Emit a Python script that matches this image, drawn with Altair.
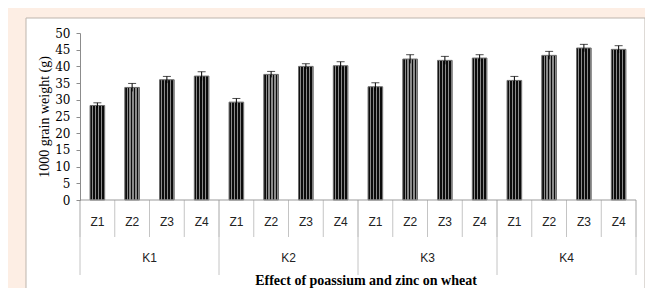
import altair as alt
import pandas as pd

k_levels = ["K1", "K2", "K3", "K4"]
z_levels = ["Z1", "Z2", "Z3", "Z4"]
values = [28.3, 33.7, 36.0, 37.1, 29.3, 37.6, 40.0, 40.2,
          33.9, 42.2, 41.8, 42.5, 35.8, 43.3, 45.5, 45.1]
errors = [0.8, 1.2, 1.0, 1.3, 1.1, 0.9, 0.8, 1.2,
          1.2, 1.3, 1.2, 1.0, 1.2, 1.2, 1.1, 1.1]
y_ticks = list(range(0, 55, 5))
y_title = "1000 grain weight (g)"
x_title = "Effect of poassium and zinc on wheat"

cats, ks, zs = [], [], []
for k in k_levels:
    for z in z_levels:
        cats.append(k + "-" + z)
        ks.append(k)
        zs.append(z)
n = len(cats)
df = pd.DataFrame({
    "cat": cats, "k": ks, "z": zs, "value": values, "err": errors,
    "lo": [v - e for v, e in zip(values, errors)],
    "hi": [v + e for v, e in zip(values, errors)],
    "mid": [i + 0.5 for i in range(n)],
})
gsize = len(z_levels)
bounds = pd.DataFrame({"pos": list(range(n + 1))})
bounds["major"] = bounds["pos"] % gsize == 0
kdf = pd.DataFrame({"k": k_levels, "kmid": [i * gsize + gsize / 2 for i in range(len(k_levels))]})

W, H = 556, 167
qscale = alt.Scale(domain=[0, n], nice=False, zero=False)
bscale = alt.Scale(paddingInner=0.58, paddingOuter=0.29)
yscale = alt.Scale(domain=[0, 50], nice=False)
yaxis = alt.Axis(values=y_ticks, title=y_title, zindex=1)

# stripes to imitate the hatched fill
stops = []
per = 5
for j in range(per):
    a = j / per
    b = (j + 0.6) / per
    c = (j + 1) / per
    stops += [alt.GradientStop(offset=a, color="#0c0c0c"), alt.GradientStop(offset=b, color="#0c0c0c"),
              alt.GradientStop(offset=b, color="#8a8a8a"), alt.GradientStop(offset=c, color="#8a8a8a")]
grad = alt.LinearGradient(gradient="linear", stops=stops, x1=0, x2=1, y1=0, y2=0)

panel = alt.Chart(pd.DataFrame({"d": [0]})).mark_rect(
    fill="white", stroke="#bdb5ad", strokeWidth=1
).encode(x=alt.value(-54), x2=alt.value(565), y=alt.value(-15), y2=alt.value(320))

xb = alt.X("cat:N", sort=cats, scale=bscale, axis=None)
bars = alt.Chart(df).mark_bar(fill=grad, stroke="#6a6a6a", strokeWidth=1).encode(
    x=xb, y=alt.Y("value:Q", scale=yscale, axis=yaxis))
err_rule = alt.Chart(df).mark_rule(color="black", strokeWidth=1).encode(
    x=xb, y=alt.Y("lo:Q", scale=yscale, axis=yaxis), y2="hi:Q")
err_cap = alt.Chart(df).mark_tick(color="black", thickness=1, size=8).encode(
    x=xb, y=alt.Y("hi:Q", scale=yscale, axis=yaxis))
main = alt.layer(bars, err_rule, err_cap)

xq = alt.X("pos:Q", scale=qscale, axis=None)
minor = alt.Chart(bounds).mark_rule(color="#c4c4c4").encode(
    x=xq, y=alt.value(H), y2=alt.value(H + 37))
major = alt.Chart(bounds).transform_filter("datum.major").mark_rule(color="#c4c4c4").encode(
    x=xq, y=alt.value(H), y2=alt.value(H + 75))
baseline = alt.Chart(pd.DataFrame({"d": [0]})).mark_rule(color="#9a9a9a").encode(
    x=alt.value(0), x2=alt.value(W), y=alt.value(H))
zlab = alt.Chart(df).mark_text(font="Liberation Sans", fontSize=12, color="#222222", baseline="middle").encode(
    x=alt.X("mid:Q", scale=qscale, axis=None), y=alt.value(H + 22), text="z:N")
klab = alt.Chart(kdf).mark_text(font="Liberation Sans", fontSize=12, color="#222222", baseline="middle").encode(
    x=alt.X("kmid:Q", scale=qscale, axis=None), y=alt.value(H + 58), text="k:N")
xt = alt.Chart(pd.DataFrame({"t": [x_title]})).mark_text(
    font="Liberation Serif", fontSize=14, fontWeight="bold", color="black", baseline="middle"
).encode(x=alt.value(286), y=alt.value(H + 81), text="t:N")

chart = alt.layer(panel, main, minor, major, baseline, zlab, klab, xt).resolve_scale(
    x="independent"
).properties(
    width=W, height=H,
    padding={"left": 72, "top": 25, "right": 9, "bottom": 88},
    autosize=alt.AutoSizeParams(type="none"),
    background="#fdeee4",
).configure_view(stroke=None).configure_axisY(
    grid=False, labelOverlap=False, labelFlush=False,
    labelFont="DejaVu Serif", labelFontSize=12, labelColor="black",
    tickColor="#8c8c8c", domainColor="#8c8c8c", tickSize=4, labelPadding=6,
    titleFont="Liberation Serif", titleFontSize=14, titleFontWeight="normal",
    titleColor="black", titlePadding=3,
)

chart.save("out.html", embed_options={"renderer": "svg", "actions": False})
